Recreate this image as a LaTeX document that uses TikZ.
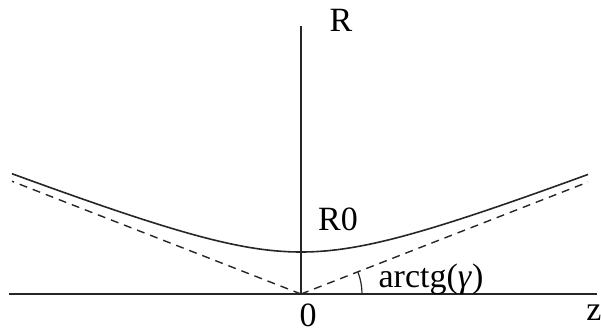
\documentclass[tikz,border=0pt]{standalone}
\usepackage{fontspec}
\setmainfont{Liberation Serif}
\begin{document}
\begin{tikzpicture}[x=1pt,y=1pt,
  lbl/.style={inner sep=0pt,anchor=base,font=\fontsize{34}{37}\selectfont},
  ax/.style={line width=1.8pt,black!85},
  curve/.style={line width=1.6pt,black!85},
  asym/.style={line width=1.4pt,black!85,dash pattern=on 8pt off 6pt}]
\useasboundingbox (0,0) rectangle (601,335);
\coordinate (O) at (301,41);
\coordinate (XL) at (9,41);
\coordinate (XR) at (597,41);
\coordinate (YT) at (301,309);
\draw[ax] (XL) -- (XR);
\draw[ax] (O) -- (YT);
\begin{scope}[shift={(O)}]
\draw[curve] plot[domain=-289:287,samples=150] ({\x},{42*sqrt(1+(0.39*\x/42)^2)});
\coordinate (DL) at (-289,{-0.39*-289});
\coordinate (DR) at (287,{0.39*287});
\coordinate (A0) at (61,0);
\end{scope}
\draw[asym] (O) -- (DL);
\draw[asym] (O) -- (DR);
\draw[line width=1.2pt,black!85] (A0) arc[start angle=0,end angle=21,radius=61];
\node[lbl] (lR) at (341,303) {R};
\node[lbl] (lR0) at (338,105) {R0};
\node[lbl] (lar) at (431,48) {arctg(\textit{γ})};
\node[lbl] (l0) at (308,9) {0};
\node[lbl] (lz) at (594,15) {z};
\end{tikzpicture}
\end{document}
